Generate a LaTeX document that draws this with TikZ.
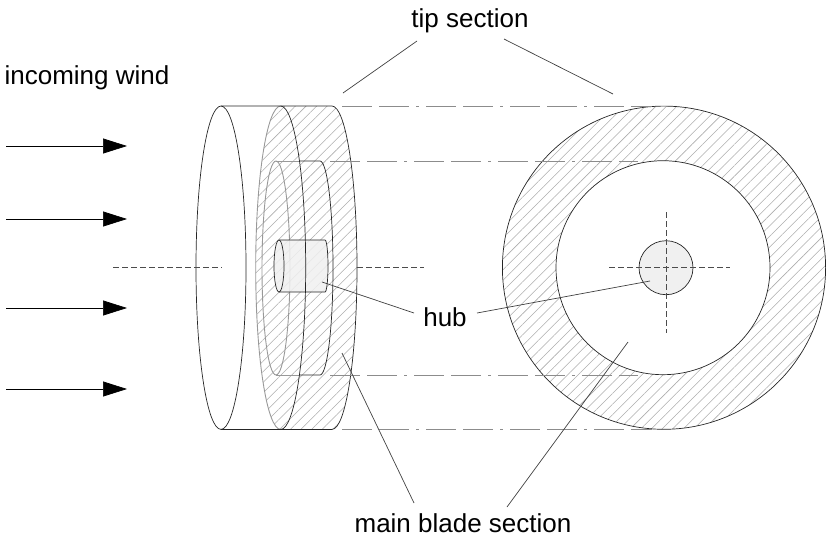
\documentclass[tikz,border=0pt]{standalone}
\usepackage{fontspec}
\setmainfont{Liberation Sans}
\usetikzlibrary{arrows.meta,patterns.meta}
\definecolor{hubgray}{HTML}{F0F0F0}

\begin{document}
\begin{tikzpicture}
  [x=1pt,y=-1pt,
   every node/.style={inner sep=0pt,font=\fontsize{26}{30}\selectfont},
   wind/.style={-{Triangle[length=24pt,width=15pt]},line width=.7pt},
   leader/.style={line width=.7pt,black!75},
   centerline/.style={dash pattern=on 6pt off 3pt,line width=.7pt,black!70},
   projline/.style={dash pattern=on 30pt off 7pt on 30pt off 7pt on 3pt off 7pt,line width=.7pt,black!45},
   outline/.style={line width=.7pt,black!85},
   ghost/.style={line width=.9pt,black!40},
   hatched/.style={pattern={Lines[angle=45,distance=7.5pt,line width=.55pt]},pattern color=black!32}]

  \useasboundingbox (0,0) rectangle (833,550);

  % labels
  \node (wind) at (87,78) {incoming wind};
  \node (tip) at (470,20.5) {tip section};
  \node (hub) at (445,317) {hub};
  \node (blade) at (463,523) {main blade section};

  % arrow ends and leader ends
  \foreach \name/\x/\y in {w1a/6/146,w1b/127/146,w2a/6/219,w2b/127/219,
    w3a/6/308,w3b/127/308,w4a/6/389,w4b/127/389,
    tipl/343/93,tipr/613/94,hubl/322/282,hubr/650/281,
    bladel/342/353,blader/628/342,
    p1a/342/106,p1b/652/106,p2a/330/161,p2b/638/161,
    p3a/330/375,p3b/638/375,p4a/342/429,p4b/652/429,
    c1a/113/267.7,c1b/222/267.7,c2a/357/267.7,c2b/424/267.7,
    c3a/609/267.7,c3b/730/267.7,c4a/666.5/212,c4b/666.5/333}
    \coordinate (\name) at (\x,\y);

  % side view
  \fill[hatched] (280.7,106) -- (332,106) arc[start angle=-90,end angle=90,x radius=25,y radius=161.7]
    -- (280.7,429.4) arc[start angle=90,end angle=270,x radius=25,y radius=161.7] -- cycle;
  \draw[ghost] (280.7,429.4) arc[start angle=90,end angle=270,x radius=25,y radius=161.7];
  \draw[ghost] (276,375) arc[start angle=90,end angle=450,x radius=14,y radius=107];
  \draw[ghost] (276,161) -- (300,161) (276,375) -- (300,375);
  \fill[hubgray,fill opacity=.85] (279,240) -- (327,240) -- (327,292) -- (279,292)
    arc[start angle=90,end angle=270,x radius=5.5,y radius=26] -- cycle;
  \draw[outline] (221,106) -- (332,106) arc[start angle=-90,end angle=90,x radius=25,y radius=161.7] -- (221,429.4);
  \draw[outline] (221,267.7) ellipse[x radius=25,y radius=161.7];
  \draw[outline] (280.7,106) arc[start angle=-90,end angle=90,x radius=25,y radius=161.7];
  \draw[outline] (300,161) -- (320,161) arc[start angle=-90,end angle=90,x radius=13,y radius=107] -- (300,375);
  \draw[outline] (279,266) ellipse[x radius=5,y radius=26];
  \draw[outline] (279,240) -- (325,240) arc[start angle=-90,end angle=90,x radius=3,y radius=26] -- (279,292);

  % front view
  \fill[hatched,even odd rule] (664,267.7) circle[radius=161.6] (663,267.7) circle[radius=107];
  \draw[outline] (664,267.7) circle[radius=161.6];
  \draw[outline] (663,267.7) circle[radius=107];
  \draw[outline,fill=hubgray] (666,267.7) circle[radius=27];

  \foreach \from/\to in {w1a/w1b,w2a/w2b,w3a/w3b,w4a/w4b}
    \draw[wind] (\from) -- (\to);
  \foreach \from/\to in {p1a/p1b,p2a/p2b,p3a/p3b,p4a/p4b}
    \draw[projline] (\from) -- (\to);
  \foreach \from/\to in {c1a/c1b,c2a/c2b,c3a/c3b,c4a/c4b}
    \draw[centerline] (\from) -- (\to);

  \draw[leader] (417,41) -- (tipl);
  \draw[leader] (504,39) -- (tipr);
  \draw[leader] (414,313) -- (hubl);
  \draw[leader] (477,313) -- (hubr);
  \draw[leader] (414,503) -- (bladel);
  \draw[leader] (507,507) -- (blader);
\end{tikzpicture}
\end{document}
